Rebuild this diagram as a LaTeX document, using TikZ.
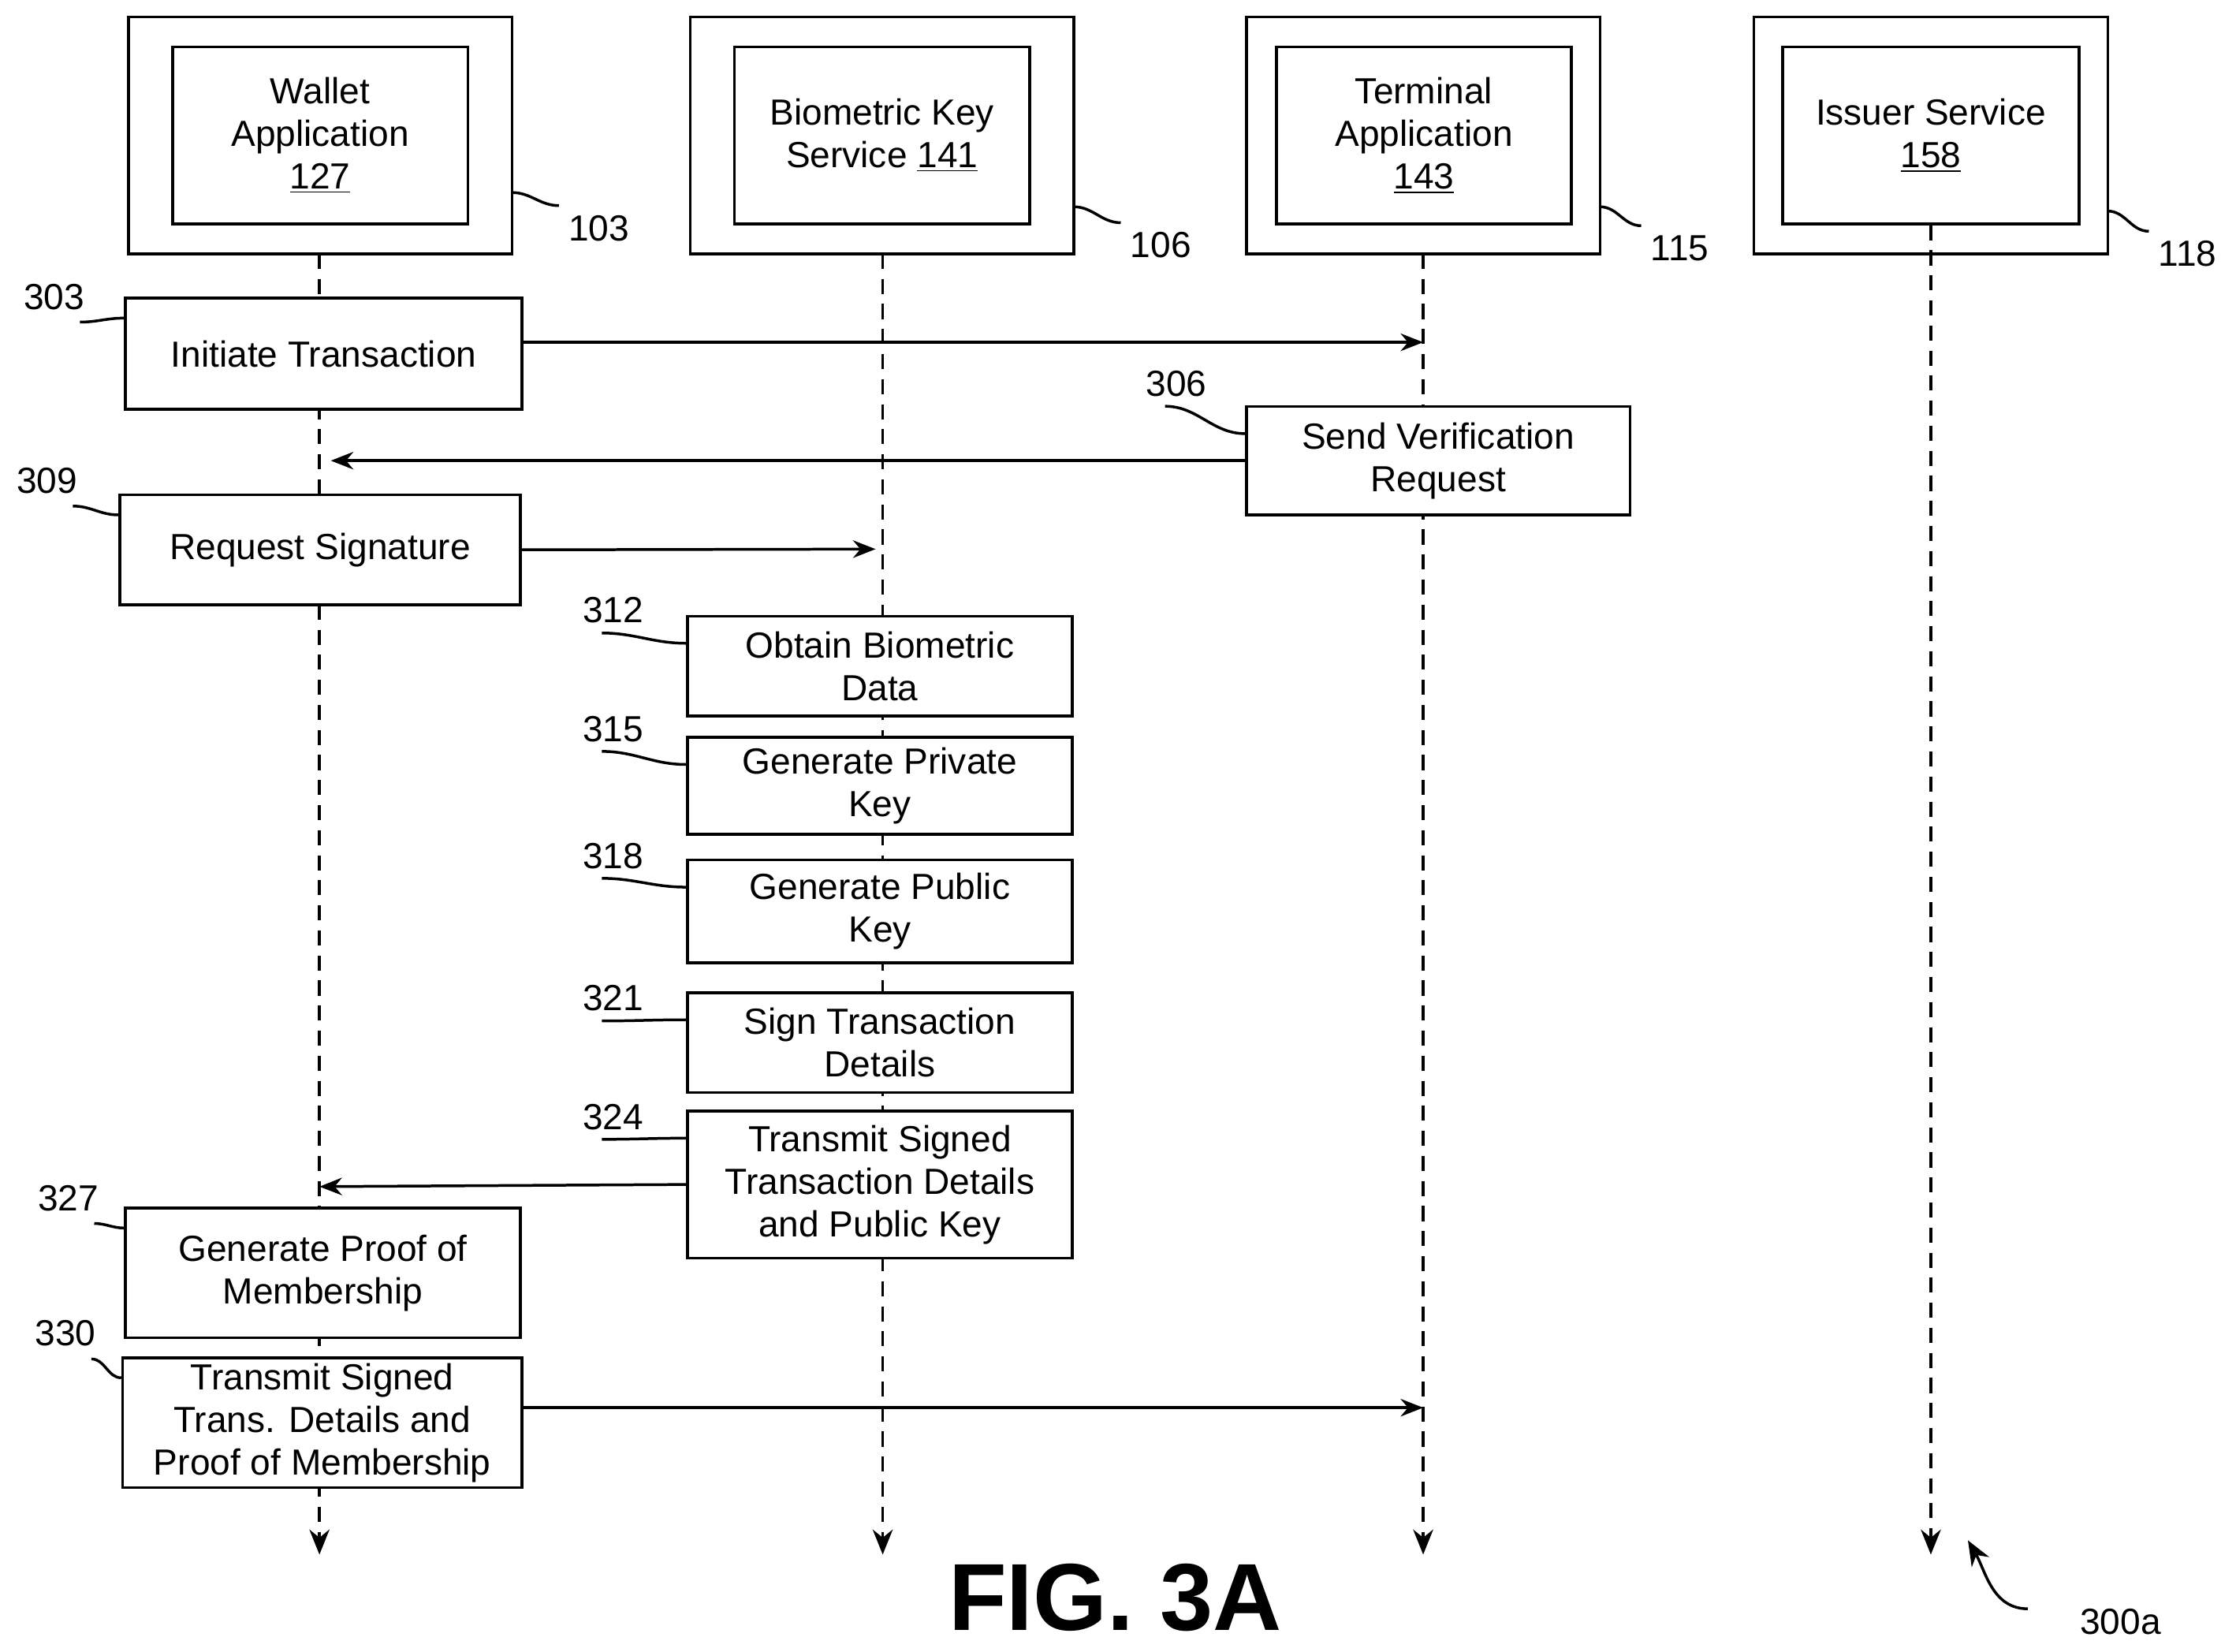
\documentclass[tikz,border=0pt]{standalone}
\usepackage{fontspec}
\setmainfont{Liberation Sans}
\usetikzlibrary{arrows.meta}
\begin{document}
\begin{tikzpicture}[x=0.02cm,y=-0.02cm,line width=1.1pt,
  every node/.style={font=\fontsize{14.5}{17}\selectfont},
  stepbox/.style={draw,line width=1.1pt,align=center,inner sep=0pt},
  ref/.style={font=\fontsize{14.5}{17}\selectfont},
  life/.style={dash pattern=on 6pt off 4pt,-{Stealth[length=10pt,width=8pt]}},
  msg/.style={-{Stealth[length=9pt,width=7pt]}},
  lead/.style={}]
\useasboundingbox (0,0) rectangle (1568,1158);
% participants
\draw (90,12) rectangle (359,178);
\node[stepbox,minimum width=207*0.02cm,minimum height=124*0.02cm] (wallet) at (224.5,95) {Wallet\\Application\\\underline{127}};
\draw (484,12) rectangle (753,178);
\node[stepbox,minimum width=207*0.02cm,minimum height=124*0.02cm] (bks) at (618.5,95) {Biometric Key\\Service \underline{141}};
\draw (874,12) rectangle (1122,178);
\node[stepbox,minimum width=207*0.02cm,minimum height=124*0.02cm] (term) at (998.5,95) {Terminal\\Application\\\underline{143}};
\draw (1230,12) rectangle (1478,178);
\node[stepbox,minimum width=208*0.02cm,minimum height=124*0.02cm] (iss) at (1354,95) {Issuer Service\\\underline{158}};
% device labels
\node[ref] (r103) at (420,160) {103};
\node[ref] (r106) at (814,172) {106};
\node[ref] (r115) at (1178,174) {115};
\node[ref] (r118) at (1534,178) {118};
\draw[lead] (359,135) to[out=0,in=180] (r103.north west);
\draw[lead] (753,145) to[out=0,in=180] (r106.north west);
\draw[lead] (1122,145) to[out=0,in=180] (r115.north west);
\draw[lead] (1478,148) to[out=0,in=180] (r118.north west);
% lifelines
\coordinate (wb) at (224,1090);
\coordinate (bb) at (619,1090);
\coordinate (tb) at (998,1090);
\coordinate (ib) at (1354,1090);
\draw[life] (224,178) -- (wb);
\draw[life] (619,178) -- (bb);
\draw[life] (998,178) -- (tb);
\draw[life] (iss.south) -- (ib);
% steps
\foreach \n/\x/\y/\w/\h/\t in {
  s303/227/248/278/78/{Initiate Transaction},
  s306/1008.5/323/269/76/{Send Verification\\Request},
  s309/224.5/385.5/281/77/{Request Signature},
  s312/617/467/270/70/{Obtain Biometric\\Data},
  s315/617/551/270/68/{Generate Private\\Key},
  s318/617/639/270/72/{Generate Public\\Key},
  s321/617/731/270/70/{Sign Transaction\\Details},
  s324/617/830.5/270/103/{Transmit Signed\\Transaction Details\\and Public Key},
  s327/226.5/892.5/277/91/{Generate Proof of\\Membership},
  s330/226/997.5/280/91/{Transmit Signed\\Trans. Details and\\Proof of Membership}}
  \node[stepbox,fill=white,minimum width=\w*0.02cm,minimum height=\h*0.02cm] (\n) at (\x,\y) {\t};
% step labels
\foreach \n/\x/\y in {303/38/208, 306/825/269, 309/33/337, 312/430/428, 315/430/511,
  318/430/600, 321/430/700, 324/430/783, 327/48/840, 330/46/935}
  \node[ref] (r\n) at (\x,\y) {\n};
\foreach \n in {303,309,327,330}
  \draw[lead] (r\n.south east) ++(-10,2) to[out=0,in=180] ([yshift=-0.3cm]s\n.north west);
\foreach \n in {306,312,315,318,321,324}
  \draw[lead] (r\n.south) ++(-8,0) to[out=0,in=180] ([yshift=-0.4cm]s\n.north west);
% messages
\draw[msg] (s303.east |- 0,240) -- (998,240);
\draw[msg] (s306.west) -- (232,323);
\draw[msg] (s309.east) -- (614,385);
\draw[msg] (s324.west) -- (224,832);
\draw[msg] (s330.east |- 0,987) -- (998,987);
% figure label
\node[font=\fontsize{38}{44}\selectfont\bfseries] (fig) at (782,1120) {FIG. 3A};
\node[ref] (r300) at (1487,1137) {300a};
\draw[lead,-{Stealth[length=10pt,width=8pt]}] (1422,1128) to[out=180,in=-60] (1380,1080);
\end{tikzpicture}
\end{document}
